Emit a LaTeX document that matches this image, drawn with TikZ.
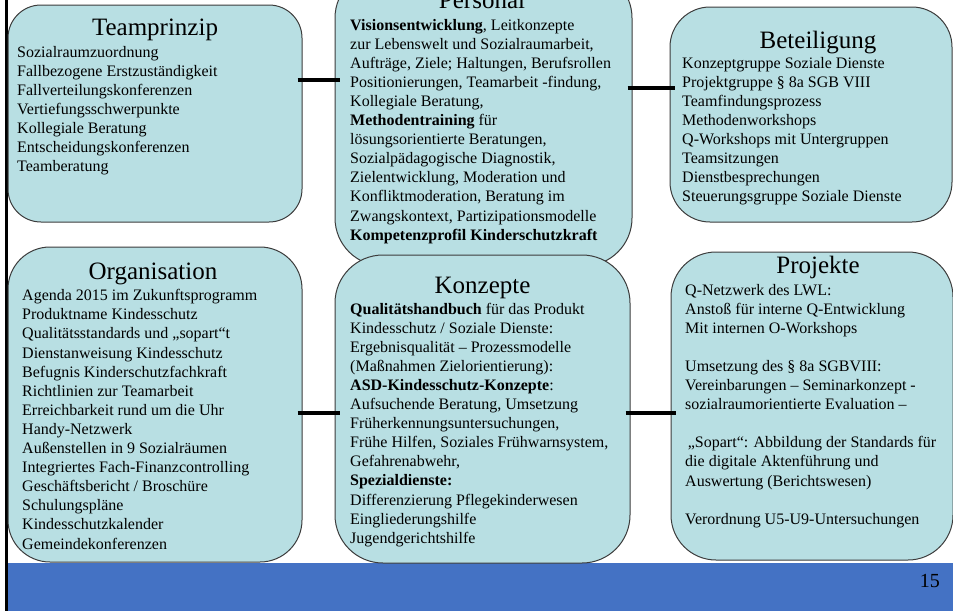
\documentclass[tikz,border=0pt]{standalone}
\usepackage{fontspec}
\setmainfont{Liberation Serif}
\usetikzlibrary{calc}
\definecolor{boxfill}{RGB}{184,223,227}
\definecolor{barblue}{RGB}{68,114,196}
\definecolor{boxline}{RGB}{60,60,60}
\newcommand{\bodyfnt}{\fontsize{16}{19.1}\selectfont}
\newcommand{\titlefnt}{\fontsize{25}{30}\selectfont}
\newcommand{\lines}[1]{\begin{tabular}[t]{@{}l@{}}#1\end{tabular}}
\begin{document}
\begin{tikzpicture}[x=1pt,y=-1pt,
  box/.style={draw=boxline, line width=1pt, fill=boxfill, inner sep=0pt},
  conn/.style={line width=4pt, black, shorten <=-5pt, shorten >=-5pt},
  ttl/.style={font=\titlefnt, anchor=base, inner sep=0pt},
  body/.style={font=\bodyfnt, anchor=base west, inner sep=0pt},
]
\useasboundingbox (0,0) rectangle (953,611);
\clip (0,0) rectangle (953,611);
% footer bar
\fill[barblue] (8,563) rectangle (953,611);
\node[font=\fontsize{20}{24}\selectfont, anchor=base east, inner sep=0pt] (pg) at (940,587) {15};
\draw[line width=2.5pt] (6.5,0) -- (6.5,611);

% boxes
\node[box, rounded corners=48pt, minimum width=297pt, minimum height=296pt] (pers) at (483.5,118) {};
\node[box, rounded corners=33pt, minimum width=294pt, minimum height=217pt] (team) at (155,113.5) {};
\node[box, rounded corners=40pt, minimum width=282pt, minimum height=215pt] (bet) at (811,114.5) {};
\node[box, rounded corners=42pt, minimum width=294pt, minimum height=315pt] (org) at (155,404.5) {};
\node[box, rounded corners=48pt, minimum width=295pt, minimum height=308pt] (konz) at (482.5,409) {};
\node[box, rounded corners=45pt, minimum width=282pt, minimum height=308pt] (proj) at (812,406) {};

% connectors
\coordinate (c1) at (0,80);
\coordinate (c2) at (0,88);
\coordinate (c3) at (0,413);
\draw[conn] (team.east |- c1) -- (pers.west |- c1);
\draw[conn] (pers.east |- c2) -- (bet.west |- c2);
\draw[conn] (org.east |- c3) -- (konz.west |- c3);
\draw[conn] (konz.east |- c3) -- (proj.west |- c3);

% Teamprinzip
\node[ttl] (teamT) at (155,35) {Teamprinzip};
\node[body] (teamB) at (17,57) {\lines{Sozialraumzuordnung\\
Fallbezogene Erstzuständigkeit\\
Fallverteilungskonferenzen\\
Vertiefungsschwerpunkte\\
Kollegiale Beratung\\
Entscheidungskonferenzen\\
Teamberatung}};

% Personal
\node[ttl] (persT) at (482,8) {Personal};
\node[body] (persB) at (350,30) {\lines{\textbf{Visionsentwicklung}, Leitkonzepte\\
zur Lebenswelt und Sozialraumarbeit,\\
Aufträge, Ziele; Haltungen, Berufsrollen\\
Positionierungen, Teamarbeit -findung,\\
Kollegiale Beratung,\\
\textbf{Methodentraining} für\\
lösungsorientierte Beratungen,\\
Sozialpädagogische Diagnostik,\\
Zielentwicklung, Moderation und\\
Konfliktmoderation, Beratung im\\
Zwangskontext, Partizipationsmodelle\\
\textbf{Kompetenzprofil Kinderschutzkraft}}};

% Beteiligung
\node[ttl] (betT) at (818,48) {Beteiligung};
\node[body] (betB) at (682,68) {\lines{Konzeptgruppe Soziale Dienste\\
Projektgruppe § 8a SGB VIII\\
Teamfindungsprozess\\
Methodenworkshops\\
Q-Workshops mit Untergruppen\\
Teamsitzungen\\
Dienstbesprechungen\\
Steuerungsgruppe Soziale Dienste}};

% Organisation
\node[ttl] (orgT) at (153,279) {Organisation};
\node[body] (orgB) at (22,300.7) {\lines{Agenda 2015 im Zukunftsprogramm\\
Produktname Kindesschutz\\
Qualitätsstandards und „sopart“t\\
Dienstanweisung Kindesschutz\\
Befugnis Kinderschutzfachkraft\\
Richtlinien zur Teamarbeit\\
Erreichbarkeit rund um die Uhr\\
Handy-Netzwerk\\
Außenstellen in 9 Sozialräumen\\
Integriertes Fach-Finanzcontrolling\\
Geschäftsbericht / Broschüre\\
Schulungspläne\\
Kindesschutzkalender\\
Gemeindekonferenzen}};

% Konzepte
\node[ttl] (konzT) at (482.5,293) {Konzepte};
\node[body] (konzB) at (350,314) {\lines{\textbf{Qualitätshandbuch} für das Produkt\\
Kindesschutz / Soziale Dienste:\\
Ergebnisqualität – Prozessmodelle\\
(Maßnahmen Zielorientierung):\\
\textbf{ASD-Kindesschutz-Konzepte}:\\
Aufsuchende Beratung, Umsetzung\\
Früherkennungsuntersuchungen,\\
Frühe Hilfen, Soziales Frühwarnsystem,\\
Gefahrenabwehr,\\
\textbf{Spezialdienste:}\\
Differenzierung Pflegekinderwesen\\
Eingliederungshilfe\\
Jugendgerichtshilfe}};

% Projekte
\node[ttl] (projT) at (818,273) {Projekte};
\node[body] (projB) at (685,295) {\lines{Q-Netzwerk des LWL:\\
Anstoß für interne Q-Entwicklung\\
Mit internen O-Workshops\\
\\
Umsetzung des § 8a SGBVIII:\\
Vereinbarungen – Seminarkonzept -\\
sozialraumorientierte Evaluation –\\
\\
\,„Sopart“: Abbildung der Standards für\\
die digitale Aktenführung und\\
Auswertung (Berichtswesen)\\
\\
Verordnung U5-U9-Untersuchungen}};
\end{tikzpicture}
\end{document}
